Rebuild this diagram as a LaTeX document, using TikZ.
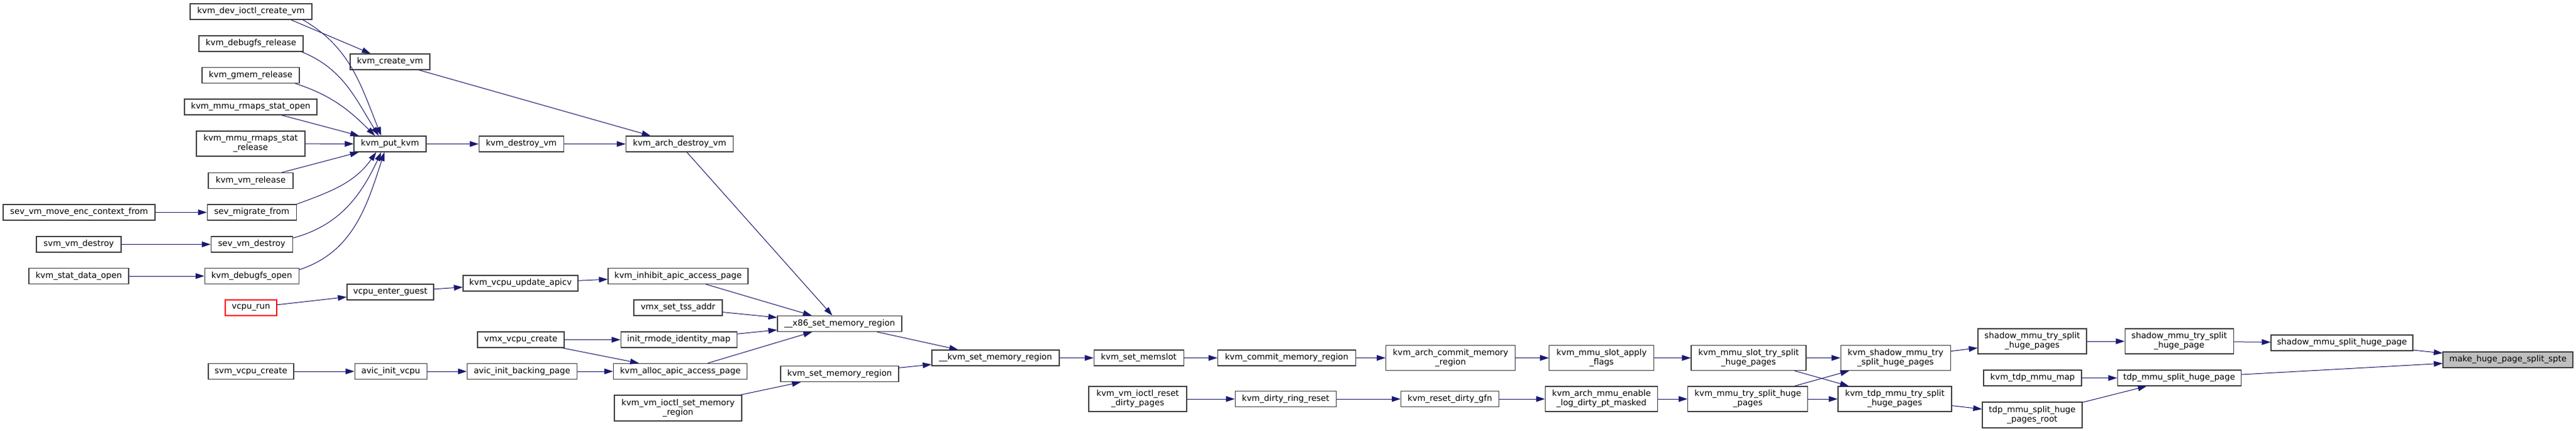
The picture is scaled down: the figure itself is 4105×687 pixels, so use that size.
\documentclass[tikz,border=0pt]{standalone}
\usepackage{fontspec}
\setmainfont{DejaVu Sans}
\usepackage{tikz}
\usetikzlibrary{positioning}
\usetikzlibrary{arrows.meta}
\definecolor{edgeblue}{HTML}{191970}
\definecolor{boxgray}{HTML}{404040}
\definecolor{rootgray}{HTML}{BFBFBF}
\definecolor{truncred}{HTML}{FF0000}

\begin{document}
\begin{tikzpicture}[x=1pt, y=-1pt,
funcnode/.style={rectangle, draw=boxgray, fill=white, line width=1.2pt, inner sep=2pt, minimum height=25pt, font=\fontsize{13.33}{15}\selectfont, align=center},
twoline/.style={minimum height=40pt},
rootnode/.style={funcnode, fill=rootgray},
truncnode/.style={funcnode, draw=truncred},
calls/.style={draw=edgeblue, line width=1pt, -{Triangle[length=14pt,width=9pt]}},
]
\useasboundingbox (0,0) rectangle (4105,687);
%Nodes
\node[funcnode, minimum width=194pt]          (devioctl)     at (400,18.5)      {kvm\_dev\_ioctl\_create\_vm};
\node[funcnode, minimum width=166pt]          (dbgrel)       at (400,69.5)      {kvm\_debugfs\_release};
\node[funcnode, minimum width=155pt]          (gmemrel)      at (399.5,120)     {kvm\_gmem\_release};
\node[funcnode, minimum width=211pt]          (rmapsopen)    at (399.5,170.5)   {kvm\_mmu\_rmaps\_stat\_open};
\node[funcnode, twoline, minimum width=173pt] (rmapsrel)     at (399.5,229)     {kvm\_mmu\_rmaps\_stat\\\_release};
\node[funcnode, minimum width=135pt]          (vmrel)        at (399.5,288)     {kvm\_vm\_release};
\node[funcnode, minimum width=242pt]          (sevmove)      at (126,338.5)     {sev\_vm\_move\_enc\_context\_from};
\node[funcnode, minimum width=142pt]          (sevmig)       [right=82pt of sevmove]     {sev\_migrate\_from};
\node[funcnode, minimum width=135pt]          (svmdestroy)   at (125.5,389.5)   {svm\_vm\_destroy};
\node[funcnode, minimum width=130pt]          (sevdestroy)   [right=142pt of svmdestroy] {sev\_vm\_destroy};
\node[funcnode, minimum width=159pt]          (statopen)     at (125.5,440)     {kvm\_stat\_data\_open};
\node[funcnode, minimum width=150pt]          (dbgopen)      [right=120pt of statopen]   {kvm\_debugfs\_open};
\node[truncnode, minimum width=82pt]          (vcpurun)      at (400,490.5)     {vcpu\_run};
\node[funcnode, minimum width=136pt]          (svmvcpu)      at (400,592)       {svm\_vcpu\_create};
\node[funcnode, minimum width=127pt]          (createvm)     at (621.5,98.5)    {kvm\_create\_vm};
\node[funcnode, minimum width=115pt]          (putkvm)       at (621.5,229.5)   {kvm\_put\_kvm};
\node[funcnode, minimum width=135pt]          (destroyvm)    [right=83pt of putkvm]      {kvm\_destroy\_vm};
\node[funcnode, minimum width=171pt]          (archdestroy)  [right=98pt of destroyvm]   {kvm\_arch\_destroy\_vm};
\node[funcnode, minimum width=138pt]          (enterguest)   at (622,465.5)     {vcpu\_enter\_guest};
\node[funcnode, minimum width=183pt]          (updapicv)     at (829.5,451.5)   {kvm\_vcpu\_update\_apicv};
\node[funcnode, minimum width=223pt]          (inhibit)      at (1080.5,440)    {kvm\_inhibit\_apic\_access\_page};
\node[funcnode, minimum width=141pt]          (tssaddr)      at (1080.5,490.5)  {vmx\_set\_tss\_addr};
\node[funcnode, minimum width=138pt]          (vmxvcpu)      at (830,541.5)     {vmx\_vcpu\_create};
\node[funcnode, minimum width=185pt]          (rmodemap)     [right=89pt of vmxvcpu]     {init\_rmode\_identity\_map};
\node[funcnode, minimum width=115pt]          (avicvcpu)     [right=96pt of svmvcpu]     {avic\_init\_vcpu};
\node[funcnode, minimum width=175pt]          (avicpage)     [right=63pt of avicvcpu]    {avic\_init\_backing\_page};
\node[funcnode, minimum width=213pt]          (allocapic)    [right=57pt of avicpage]    {kvm\_alloc\_apic\_access\_page};
\node[funcnode, minimum width=203pt, minimum height=41pt] (ioctlsetmem) at (1080.5,650.5) {kvm\_vm\_ioctl\_set\_memory\\\_region};
\node[funcnode, minimum width=198pt]          (xsetmem)      at (1338,516)      {\_\_x86\_set\_memory\_region};
\node[funcnode, minimum width=188pt]          (setmem)       at (1338,596)      {kvm\_set\_memory\_region};
\node[funcnode, minimum width=203pt]          (ksetmem)      at (1586.5,570.5)  {\_\_kvm\_set\_memory\_region};
\node[funcnode, minimum width=143pt]          (memslot)      [right=54pt of ksetmem]     {kvm\_set\_memslot};
\node[funcnode, minimum width=220pt]          (commit)       [right=53pt of memslot]     {kvm\_commit\_memory\_region};
\node[funcnode, twoline, minimum width=206pt] (archcommit)   [right=47pt of commit]      {kvm\_arch\_commit\_memory\\\_region};
\node[funcnode, twoline, minimum width=167pt] (applyflags)   [right=53pt of archcommit]  {kvm\_mmu\_slot\_apply\\\_flags};
\node[funcnode, twoline, minimum width=183pt] (slotsplit)    [right=58pt of applyflags]  {kvm\_mmu\_slot\_try\_split\\\_huge\_pages};
\node[funcnode, twoline, minimum width=156pt] (resetdirty)   at (1813,636)      {kvm\_vm\_ioctl\_reset\\\_dirty\_pages};
\node[funcnode, minimum width=161pt]          (ringreset)    [right=76pt of resetdirty]  {kvm\_dirty\_ring\_reset};
\node[funcnode, minimum width=156pt]          (resetgfn)     [right=102pt of ringreset]  {kvm\_reset\_dirty\_gfn};
\node[funcnode, twoline, minimum width=179pt] (logdirty)     [right=73pt of resetgfn]    {kvm\_arch\_mmu\_enable\\\_log\_dirty\_pt\_masked};
\node[funcnode, twoline, minimum width=191pt] (trysplit)     [right=47pt of logdirty]    {kvm\_mmu\_try\_split\_huge\\\_pages};
\node[funcnode, twoline, minimum width=175pt] (shadowtry)    [right=54pt of slotsplit]   {kvm\_shadow\_mmu\_try\\\_split\_huge\_pages};
\node[funcnode, twoline, minimum width=181pt] (tdptry)       [right=47pt of trysplit]    {kvm\_tdp\_mmu\_try\_split\\\_huge\_pages};
\node[funcnode, twoline, minimum width=173pt] (shadowpages)  at (3238.5,544)    {shadow\_mmu\_try\_split\\\_huge\_pages};
\node[funcnode, minimum width=156pt]          (tdpmap)       at (3239,602.5)    {kvm\_tdp\_mmu\_map};
\node[funcnode, twoline, minimum width=159pt, minimum height=41pt] (tdproot) at (3238.5,661.5) {tdp\_mmu\_split\_huge\\\_pages\_root};
\node[funcnode, twoline, minimum width=173pt] (shadowpage)   [right=60pt of shadowpages] {shadow\_mmu\_try\_split\\\_huge\_page};
\node[funcnode, minimum width=197pt]          (tdpsplit)     [right=56pt of tdpmap]      {tdp\_mmu\_split\_huge\_page};
\node[funcnode, minimum width=226pt]          (shadowsplit)  at (3732,546.5)    {shadow\_mmu\_split\_huge\_page};
\node[rootnode, minimum width=207pt]          (spte)         at (3996.5,573.5)  {make\_huge\_page\_split\_spte};

%Lines
\draw[calls] ([xshift=-34pt]devioctl.south east) -- (createvm);
\draw[calls] ([xshift=-15pt]devioctl.south east) to[out=-30,in=112] ([xshift=-14pt]putkvm.north);
\draw[calls] ([xshift=-3pt]dbgrel.south east) to[out=-22,in=122] ([xshift=-18pt]putkvm.north);
\draw[calls] ([xshift=-7pt]gmemrel.south east) to[out=-18,in=135] ([xshift=-24pt]putkvm.north);
\draw[calls] (rmapsopen) -- (putkvm);
\draw[calls] (rmapsrel) -- (putkvm);
\draw[calls] (vmrel) -- (putkvm);
\draw[calls] (sevmig.north east) to[out=20,in=-125] ([xshift=-22pt]putkvm.south);
\draw[calls] ([yshift=-3pt]sevdestroy.north east) to[out=15,in=-115] ([xshift=-14pt]putkvm.south);
\draw[calls] ([yshift=-3pt]dbgopen.north east) to[out=18,in=-108] ([xshift=-9pt]putkvm.south);
\draw[calls] (sevmove.east) -- (sevmig.west);
\draw[calls] (svmdestroy.east) -- (sevdestroy.west);
\draw[calls] (statopen.east) -- (dbgopen.west);
\draw[calls] (vcpurun) -- (enterguest);
\draw[calls] (enterguest) -- (updapicv);
\draw[calls] (updapicv) -- (inhibit);
\draw[calls] (svmvcpu.east) -- (avicvcpu.west);
\draw[calls] (avicvcpu.east) -- (avicpage.west);
\draw[calls] (avicpage.east) -- (allocapic.west);
\draw[calls] (vmxvcpu.east) -- (rmodemap.west);
\draw[calls] (vmxvcpu) -- (allocapic);
\draw[calls] (createvm) -- (archdestroy);
\draw[calls] (putkvm.east) -- (destroyvm.west);
\draw[calls] (destroyvm.east) -- (archdestroy.west);
\draw[calls] (archdestroy) -- (xsetmem);
\draw[calls] (inhibit) -- (xsetmem);
\draw[calls] (tssaddr) -- (xsetmem);
\draw[calls] (rmodemap) -- (xsetmem);
\draw[calls] (allocapic) -- (xsetmem);
\draw[calls] (ioctlsetmem) -- (setmem);
\draw[calls] (xsetmem) -- (ksetmem);
\draw[calls] (setmem) -- (ksetmem);
\draw[calls] (ksetmem.east) -- (memslot.west);
\draw[calls] (memslot.east) -- (commit.west);
\draw[calls] (commit.east) -- (archcommit.west);
\draw[calls] (archcommit.east) -- (applyflags.west);
\draw[calls] (applyflags.east) -- (slotsplit.west);
\draw[calls] (resetdirty.east) -- (ringreset.west);
\draw[calls] (ringreset.east) -- (resetgfn.west);
\draw[calls] (resetgfn.east) -- (logdirty.west);
\draw[calls] (logdirty.east) -- (trysplit.west);
\draw[calls] (slotsplit.east) -- (shadowtry.west);
\draw[calls] (slotsplit) -- (tdptry);
\draw[calls] (trysplit) -- (shadowtry);
\draw[calls] (trysplit.east) -- (tdptry.west);
\draw[calls] (shadowtry) -- (shadowpages);
\draw[calls] (tdptry) -- (tdproot);
\draw[calls] (shadowpages.east) -- (shadowpage.west);
\draw[calls] (tdpmap.east) -- (tdpsplit.west);
\draw[calls] (tdproot) -- (tdpsplit);
\draw[calls] (shadowpage) -- (shadowsplit);
\draw[calls] (shadowsplit) -- (spte);
\draw[calls] (tdpsplit) -- (spte);

\end{tikzpicture}
\end{document}
